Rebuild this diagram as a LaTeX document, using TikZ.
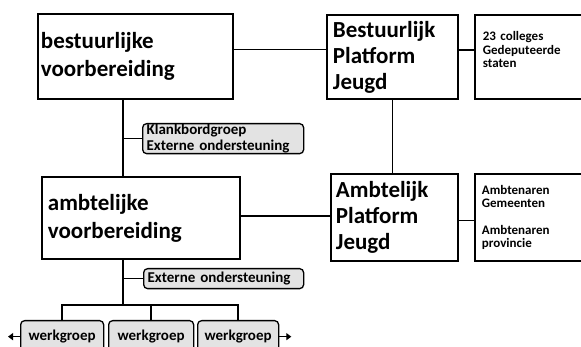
\documentclass[tikz,border=0pt]{standalone}
\usepackage{fontspec}
\setmainfont{Carlito}
\usetikzlibrary{arrows.meta}
\begin{document}
\begin{tikzpicture}[x={(1pt,0)},y={(0,-1pt)},
	blok/.style={draw, line width=1.8pt, fill=white, anchor=north west, align=left, inner ysep=0pt,
		font=\bfseries\fontsize{23}{28}\selectfont},
	klein/.style={draw, line width=1.8pt, fill=white, anchor=north west, align=left, inner ysep=0pt,
		font=\bfseries\fontsize{13}{13.5}\selectfont},
	kader/.style={draw, line width=1.3pt, rounded corners=4pt, fill=gray!22, anchor=north west,
		inner ysep=0pt, font=\bfseries\fontsize{15}{16.5}\selectfont},
	lijn/.style={line width=1.5pt},
	pijl/.style={line width=1.5pt, -{Triangle[width=7pt,length=5pt]}}]
	\clip (0,0) rectangle (581,347);
	
	\node[blok, inner xsep=3pt, text width=189pt, minimum height=85pt] (b1) at (37,13) {bestuurlijke\\voorbereiding};
	\node[blok, inner xsep=6pt, text width=119pt, minimum height=84pt, font=\bfseries\fontsize{23}{26}\selectfont] (b2) at (326,14) {Bestuurlijk\\Platform\\Jeugd};
	\node[klein, inner xsep=8pt, text width=104pt, minimum height=84pt] (b3) at (474,14) {23 colleges\\Gedeputeerde\\staten\\[1pt]\mbox{}};
	\node[blok, inner xsep=6pt, text width=186pt, minimum height=82pt] (b4) at (41,176) {ambtelijke\\voorbereiding};
	\node[blok, inner xsep=5pt, text width=117pt, minimum height=87pt, font=\bfseries\fontsize{23}{26}\selectfont] (b5) at (330,173) {Ambtelijk\\Platform\\Jeugd};
	\node[klein, inner xsep=7pt, text width=106pt, minimum height=87pt] (b6) at (474,173) {Ambtenaren\\Gemeenten\\[13pt]Ambtenaren\\provincie};
	
	\node[kader, align=left, inner xsep=4pt, text width=153pt, minimum height=30pt] (kl) at (142,123) {Klankbordgroep\\Externe ondersteuning};
	\node[kader, align=left, inner xsep=4pt, text width=152pt, minimum height=20pt] (ext) at (143,268) {Externe ondersteuning};
	
	\node[kader, align=center, minimum width=83pt, minimum height=32pt] (wa) at (20,320) {werkgroep};
	\node[kader, align=center, minimum width=85pt, minimum height=32pt] (wb) at (108,320) {werkgroep};
	\node[kader, align=center, minimum width=81pt, minimum height=32pt] (wc) at (197,320) {werkgroep};
	
	% verbindingen
	\draw[lijn] ([yshift=7pt]b1.east) -- ([yshift=7pt]b1.east -| b2.west);
	\draw[lijn] ([yshift=7pt]b2.east) -- ([yshift=7pt]b2.east -| b3.west);
	\coordinate (t1) at ([xshift=-12.5pt]b1.south);
	\draw[lijn] (t1) -- (t1 |- b4.north);
	\draw[lijn] (kl.west -| t1) -- (kl.west);
	\draw[lijn] (b2.south) -- (b2.south |- b5.north);
	\draw[lijn] ([yshift=2pt]b4.east) -- ([yshift=2pt]b4.east -| b5.west);
	\draw[lijn] ([yshift=-3pt]b5.east) -- ([yshift=-3pt]b5.east -| b6.west);
	\coordinate (t2) at ([xshift=-18pt]b4.south);
	\coordinate (t3) at ([yshift=-45pt]t2);
	\draw[lijn] (t2) -- (t3);
	\draw[lijn] (ext.west -| t2) -- (ext.west);
	\draw[lijn] (wa.north) |- (t3) -| (wc.north);
	\draw[lijn] (wb.north |- t3) -- (wb.north);
	\draw[pijl] (wa.west) -- ++(-12,0);
	\draw[pijl] (wc.east) -- ++(12,0);
\end{tikzpicture}
\end{document}
